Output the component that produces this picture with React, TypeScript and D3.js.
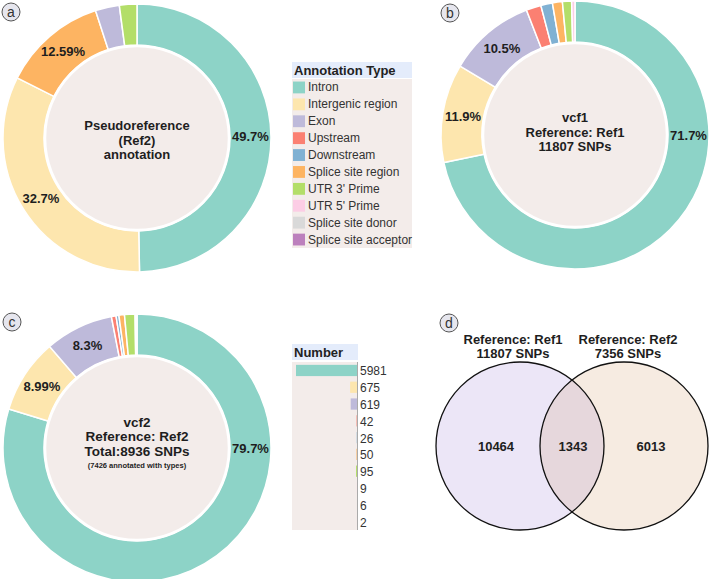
import React, { useEffect, useRef } from "react";
import * as d3 from "d3";

// annotation types and their colours (Set3-like)
const categories = [
  "Intron",
  "Intergenic region",
  "Exon",
  "Upstream",
  "Downstream",
  "Splice site region",
  "UTR 3' Prime",
  "UTR 5' Prime",
  "Splice site donor",
  "Splice site acceptor",
];
const colors = [
  "#8dd3c7",
  "#fde6ae",
  "#bebada",
  "#fb8072",
  "#80b1d3",
  "#fdb462",
  "#b3de69",
  "#fccde5",
  "#d9d9d9",
  "#bc80bd",
];

// (a) pseudoreference annotation, percent of SNPs
const refCats = ["Intron", "Intergenic region", "Splice site region", "Exon", "UTR 3' Prime"];
const refPct = [49.7, 32.7, 12.59, 2.9, 2.11];
const refLabels = ["49.7%", "32.7%", "12.59%", "", ""];

// (b) vcf1 against Ref1, percent of SNPs
const vcf1Cats = [
  "Intron",
  "Intergenic region",
  "Exon",
  "Upstream",
  "Downstream",
  "Splice site region",
  "UTR 3' Prime",
  "UTR 5' Prime",
];
const vcf1Pct = [71.7, 11.9, 10.5, 1.8, 1.4, 1.2, 1.1, 0.4];
const vcf1Labels = ["71.7%", "11.9%", "10.5%", "", "", "", "", ""];

// (c) vcf2 against Ref2, SNP counts per type
const vcf2Counts = [5981, 675, 619, 42, 26, 50, 95, 9, 6, 2];
const vcf2Labels = ["79.7%", "8.99%", "8.3%", "", "", "", "", "", "", ""];

// (d) overlap between the two SNP sets
const vennCounts = [10464, 1343, 6013];
const vennTitles = [
  ["Reference: Ref1", "11807 SNPs"],
  ["Reference: Ref2", "7356 SNPs"],
];

const FONT = "'Liberation Sans', Arial, sans-serif";
const INNER_BG = "#f3ecea";
const HEADER_BG = "#e4ecfb";

const colorOf = d3.scaleOrdinal<string, string>().domain(categories).range(colors);

type Slice = { cat: string; value: number; label: string };

function drawDonut(
  svg: d3.Selection<SVGSVGElement, unknown, null, undefined>,
  cx: number,
  cy: number,
  cats: string[],
  values: number[],
  labels: string[],
  centerLines: { text: string; size: number }[],
  centerShift: number
) {
  const inner = 93;
  const outer = 134;
  const g = svg.append("g").attr("transform", `translate(${cx},${cy})`);
  const data: Slice[] = cats.map((c, i) => ({ cat: c, value: values[i], label: labels[i] }));
  const pie = d3
    .pie<Slice>()
    .sort(null)
    .value((d) => d.value);
  const arc = d3.arc<d3.PieArcDatum<Slice>>().innerRadius(inner).outerRadius(outer);
  const arcs = pie(data);

  g.selectAll("path")
    .data(arcs)
    .join("path")
    .attr("d", arc)
    .attr("fill", (d) => colorOf(d.data.cat))
    .attr("stroke", "white")
    .attr("stroke-width", 1.5);

  g.append("circle")
    .attr("r", inner - 1)
    .attr("fill", INNER_BG)
    .attr("stroke", "white")
    .attr("stroke-width", 2.5);

  // labels sit mid-ring; big slices keep theirs a quarter turn from the start
  const mid = (inner + outer) / 2;
  const labelAngle = (d: d3.PieArcDatum<Slice>) =>
    d.startAngle + Math.min((d.endAngle - d.startAngle) / 2, Math.PI / 2);
  g.selectAll("text.pct")
    .data(arcs.filter((d) => d.data.label))
    .join("text")
    .attr("class", "pct")
    .attr("x", (d) => mid * Math.sin(labelAngle(d)))
    .attr("y", (d) => -mid * Math.cos(labelAngle(d)))
    .attr("text-anchor", "middle")
    .attr("dominant-baseline", "central")
    .style("font-family", FONT)
    .style("font-size", "13px")
    .style("font-weight", "bold")
    .attr("fill", "#1e1e1e")
    .text((d) => d.data.label);

  const lineH = 14.5;
  const y0 = centerShift - ((centerLines.length - 1) * lineH) / 2;
  g.selectAll("text.center")
    .data(centerLines)
    .join("text")
    .attr("class", "center")
    .attr("x", 0)
    .attr("y", (_, i) => y0 + i * lineH)
    .attr("text-anchor", "middle")
    .attr("dominant-baseline", "central")
    .style("font-family", FONT)
    .style("font-size", (d) => `${d.size}px`)
    .style("font-weight", "bold")
    .attr("fill", "#1e1e1e")
    .text((d) => d.text);
}

function drawBadge(
  svg: d3.Selection<SVGSVGElement, unknown, null, undefined>,
  x: number,
  y: number,
  letter: string
) {
  svg.append("circle").attr("cx", x).attr("cy", y).attr("r", 9).attr("fill", "#e6e6ee").attr("stroke", "#555").attr("stroke-width", 1);
  svg
    .append("text")
    .attr("x", x)
    .attr("y", y)
    .attr("text-anchor", "middle")
    .attr("dominant-baseline", "central")
    .style("font-family", FONT)
    .style("font-size", "14px")
    .attr("fill", "#333")
    .text(letter);
}

export default function App() {
  const ref = useRef<SVGSVGElement>(null);

  useEffect(() => {
    const svg = d3.select(ref.current!);
    svg.selectAll("*").remove();

    drawDonut(svg, 137, 138, refCats, refPct, refLabels, [
      { text: "Pseudoreference", size: 13 },
      { text: "(Ref2)", size: 13 },
      { text: "annotation", size: 13 },
    ], 2);
    drawDonut(svg, 575, 135, vcf1Cats, vcf1Pct, vcf1Labels, [
      { text: "vcf1", size: 13 },
      { text: "Reference: Ref1", size: 13 },
      { text: "11807 SNPs", size: 13 },
    ], -3);
    drawDonut(svg, 137, 448, categories, vcf2Counts, vcf2Labels, [
      { text: "vcf2", size: 13.5 },
      { text: "Reference: Ref2", size: 13.5 },
      { text: "Total:8936 SNPs", size: 13.5 },
      { text: "(7426 annotated with types)", size: 7.5 },
    ], -4);

    // legend for annotation types
    const lg = svg.append("g");
    lg.append("rect").attr("x", 292).attr("y", 62).attr("width", 120).attr("height", 16).attr("fill", HEADER_BG);
    lg.append("text")
      .attr("x", 294)
      .attr("y", 75)
      .style("font-family", FONT)
      .style("font-size", "13px")
      .style("font-weight", "bold")
      .attr("fill", "#222")
      .text("Annotation Type");
    lg.append("rect").attr("x", 292).attr("y", 79).attr("width", 120).attr("height", 169).attr("fill", INNER_BG);
    const ly = d3.scaleBand<string>().domain(categories).range([79, 248]).paddingInner(0.3).paddingOuter(0.15);
    lg.selectAll("rect.sw")
      .data(categories)
      .join("rect")
      .attr("class", "sw")
      .attr("x", 293)
      .attr("y", (d) => ly(d)!)
      .attr("width", 12)
      .attr("height", ly.bandwidth())
      .attr("fill", (d) => colorOf(d));
    lg.selectAll("text.item")
      .data(categories)
      .join("text")
      .attr("class", "item")
      .attr("x", 308)
      .attr("y", (d) => ly(d)! + ly.bandwidth() / 2)
      .attr("dominant-baseline", "central")
      .style("font-family", FONT)
      .style("font-size", "12px")
      .attr("fill", "#333")
      .text((d) => d);

    // SNP counts per type for vcf2
    const bg = svg.append("g");
    bg.append("rect").attr("x", 292).attr("y", 344).attr("width", 66).attr("height", 16).attr("fill", HEADER_BG);
    bg.append("text")
      .attr("x", 294)
      .attr("y", 357)
      .style("font-family", FONT)
      .style("font-size", "13px")
      .style("font-weight", "bold")
      .attr("fill", "#222")
      .text("Number");
    bg.append("rect").attr("x", 292).attr("y", 362).attr("width", 65).attr("height", 168).attr("fill", INNER_BG);
    const by = d3.scaleBand<string>().domain(categories).range([362, 530]).paddingInner(0.33).paddingOuter(0.17);
    const bx = d3.scaleLinear().domain([0, d3.max(vcf2Counts)!]).range([357, 296]);
    bg.selectAll("rect.bar")
      .data(vcf2Counts)
      .join("rect")
      .attr("class", "bar")
      .attr("x", (d) => bx(d))
      .attr("y", (_, i) => by(categories[i])!)
      .attr("width", (d) => bx(0) - bx(d))
      .attr("height", by.bandwidth())
      .attr("fill", (_, i) => colors[i]);
    bg.append("line").attr("x1", 357.5).attr("x2", 357.5).attr("y1", 362).attr("y2", 530).attr("stroke", "#aaa").attr("stroke-width", 1);
    bg.selectAll("text.num")
      .data(vcf2Counts)
      .join("text")
      .attr("class", "num")
      .attr("x", 360)
      .attr("y", (_, i) => by(categories[i])! + by.bandwidth() / 2 + 1)
      .attr("dominant-baseline", "central")
      .style("font-family", FONT)
      .style("font-size", "12px")
      .attr("fill", "#333")
      .text((d) => d);

    // Venn diagram of the two SNP sets
    const r = 84;
    const c1 = { x: 520, y: 446 };
    const c2 = { x: 624, y: 446 };
    const vg = svg.append("g");
    vg.append("clipPath").attr("id", "leftSet").append("circle").attr("cx", c1.x).attr("cy", c1.y).attr("r", r);
    vg.append("circle").attr("cx", c1.x).attr("cy", c1.y).attr("r", r).attr("fill", "#ece6f7");
    vg.append("circle").attr("cx", c2.x).attr("cy", c2.y).attr("r", r).attr("fill", "#f6ebe1");
    vg.append("circle").attr("cx", c2.x).attr("cy", c2.y).attr("r", r).attr("fill", "#e6d7dc").attr("clip-path", "url(#leftSet)");
    [c1, c2].forEach((c) =>
      vg.append("circle").attr("cx", c.x).attr("cy", c.y).attr("r", r).attr("fill", "none").attr("stroke", "#111").attr("stroke-width", 1.3)
    );
    const countX = [c1.x - 24, (c1.x + c2.x) / 2 + 1, c2.x + 27];
    vg.selectAll("text.cnt")
      .data(vennCounts)
      .join("text")
      .attr("class", "cnt")
      .attr("x", (_, i) => countX[i])
      .attr("y", c1.y)
      .attr("text-anchor", "middle")
      .attr("dominant-baseline", "central")
      .style("font-family", FONT)
      .style("font-size", "13px")
      .style("font-weight", "bold")
      .attr("fill", "#1e1e1e")
      .text((d) => d);
    const titleX = [c1.x - 7, c2.x + 4];
    vennTitles.forEach((lines, i) =>
      lines.forEach((t, j) =>
        vg.append("text")
          .attr("x", titleX[i])
          .attr("y", 339 + j * 14)
          .attr("text-anchor", "middle")
          .attr("dominant-baseline", "central")
          .style("font-family", FONT)
          .style("font-size", "13px")
          .style("font-weight", "bold")
          .attr("fill", "#1e1e1e")
          .text(t)
      )
    );

    drawBadge(svg, 11, 12, "a");
    drawBadge(svg, 450, 13, "b");
    drawBadge(svg, 12, 322, "c");
    drawBadge(svg, 449, 323, "d");
  }, []);

  return (
    <svg
      ref={ref}
      width={709}
      height={579}
      style={{ position: "absolute", left: 0, top: 0, background: "white" }}
    />
  );
}
